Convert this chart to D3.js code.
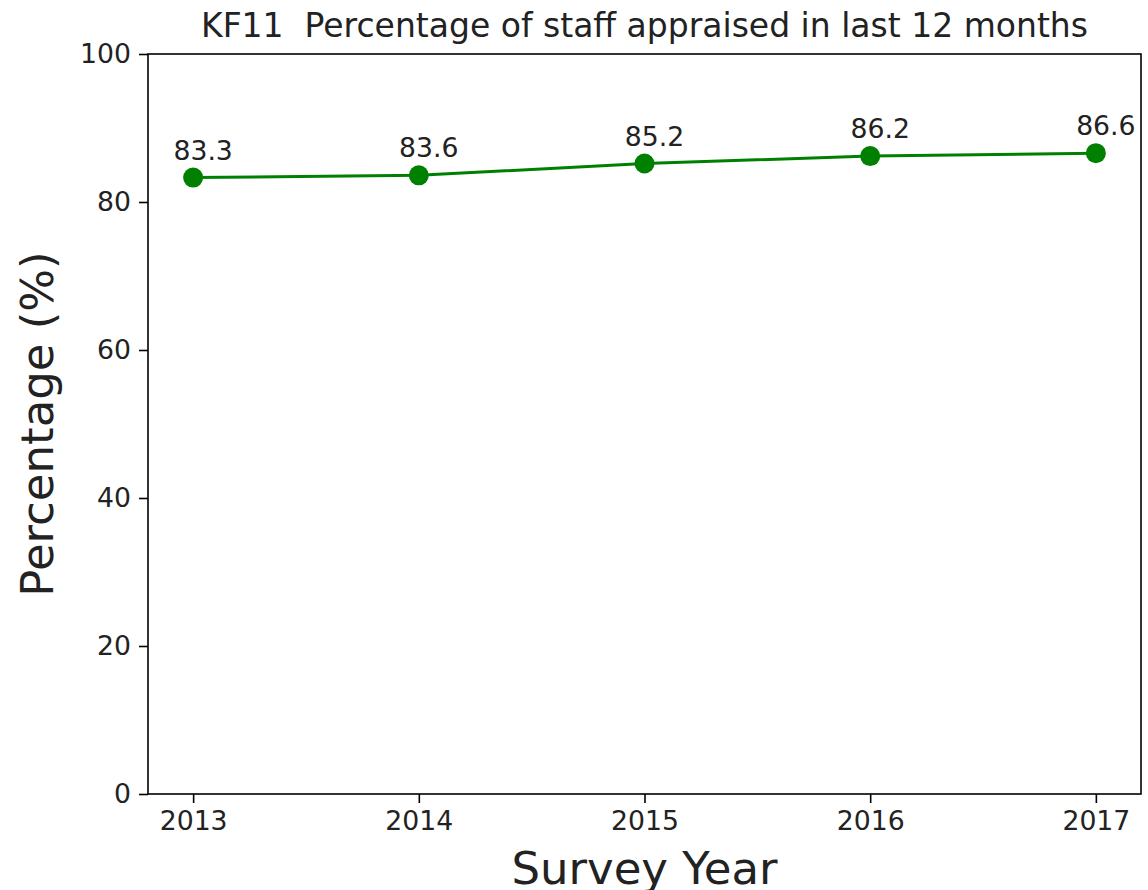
<!DOCTYPE html>
<html>
<head>
<meta charset="utf-8">
<script src="https://cdn.jsdelivr.net/npm/d3@7"></script>
<style>
body { margin: 0; background: #fff; }
svg { display: block; font-family: "DejaVu Sans", sans-serif; }
</style>
</head>
<body>
<svg width="1148" height="890"></svg>
<script>
var years = [2013, 2014, 2015, 2016, 2017];
var values = [83.3, 83.6, 85.2, 86.2, 86.6];
var yTicks = [0, 20, 40, 60, 80, 100];

var svg = d3.select("svg"),
margin = {top: 54, right: 7, bottom: 96, left: 148},
width = +svg.attr("width") - margin.left - margin.right,
height = +svg.attr("height") - margin.top - margin.bottom,
g = svg.append("g").attr("transform", "translate(" + margin.left + "," + margin.top + ")");

var x = d3.scaleLinear()
.domain([2012.8, 2017.2])
.range([0, width]);

var y = d3.scaleLinear()
.domain([0, 100])
.range([height, 0]);

var data = years.map(function(d, i) { return {year: d, value: values[i]}; });

// axes
var xAxis = g.append("g")
.attr("transform", "translate(0," + height + ")")
.call(d3.axisBottom(x).tickValues(years).tickFormat(d3.format("d")).tickSize(9).tickPadding(8));

var yAxis = g.append("g")
.call(d3.axisLeft(y).tickValues(yTicks).tickSize(9).tickPadding(8));

[xAxis, yAxis].forEach(function(a) {
  a.select(".domain").remove();
  a.selectAll("line").attr("stroke", "#000").attr("stroke-width", 1.6);
  a.selectAll("text").attr("fill", "#222").style("font-size", "26.7px").style("font-family", "DejaVu Sans");
});

// frame
g.append("rect")
.attr("width", width)
.attr("height", height)
.attr("fill", "none")
.attr("stroke", "#000")
.attr("stroke-width", 1.6);

var line = d3.line()
.x(function(d) { return x(d.year); })
.y(function(d) { return y(d.value); });

g.append("path")
.datum(data)
.attr("fill", "none")
.attr("stroke", "green")
.attr("stroke-width", 3)
.attr("d", line);

g.selectAll(".dot")
.data(data)
.enter().append("circle")
.attr("class", "dot")
.attr("r", 10)
.attr("fill", "green")
.attr("cx", function(d) { return x(d.year); })
.attr("cy", function(d) { return y(d.value); });

g.selectAll(".val")
.data(data)
.enter().append("text")
.attr("class", "val")
.attr("x", function(d) { return x(d.year) + 10; })
.attr("y", function(d) { return y(d.value) - 18; })
.attr("text-anchor", "middle")
.attr("fill", "#222")
.style("font-size", "26.7px")
.text(function(d) { return d.value.toFixed(1); });

// title and labels
svg.append("text")
.attr("x", margin.left + width / 2)
.attr("y", 37)
.attr("text-anchor", "middle")
.attr("fill", "#222")
.style("font-size", "33px")
.style("white-space", "pre")
.text("KF11  Percentage of staff appraised in last 12 months");

svg.append("text")
.attr("x", margin.left + width / 2)
.attr("y", 884)
.attr("text-anchor", "middle")
.attr("fill", "#222")
.style("font-size", "45px")
.text("Survey Year");

svg.append("text")
.attr("transform", "translate(53," + (margin.top + height / 2) + ") rotate(-90)")
.attr("text-anchor", "middle")
.attr("fill", "#222")
.style("font-size", "45px")
.text("Percentage (%)");
</script>
</body>
</html>
